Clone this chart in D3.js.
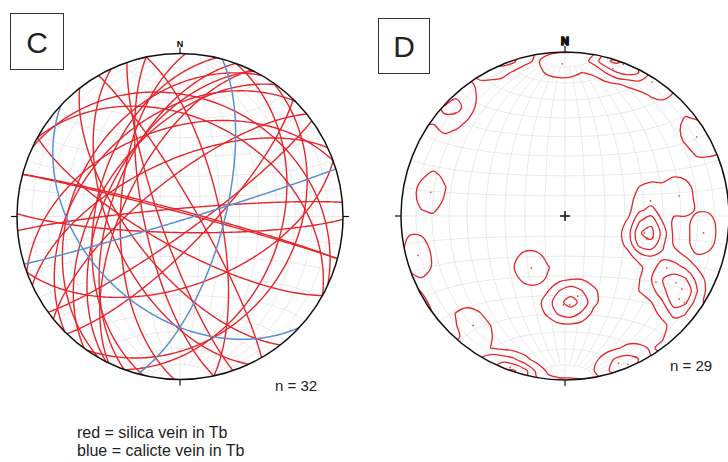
<!DOCTYPE html>
<html>
<head>
<meta charset="utf-8">
<script src="https://cdn.jsdelivr.net/npm/d3@7"></script>
<style>
  body { margin: 0; background: #fff; }
  text { font-family: "Liberation Sans", Arial, sans-serif; }
</style>
</head>
<body>
<svg id="chart" width="728" height="462"></svg>
<script>
// plot C: planes as [dip direction, dip]
const silicaPlanes = [
  [15, 88], [15, 87], [283, 47], [290, 55], [297, 52], [306, 50], [296, 62],
  [272, 60], [258, 72], [134, 76], [321, 72], [144, 82], [335, 62], [355, 86],
  [181, 82], [25, 28], [29, 40], [60, 82], [251, 80], [78, 70], [110, 38],
  [125, 30], [209, 75], [232, 65], [160, 55], [340, 45], [315, 40], [300, 35],
  [245, 55]
];
const calcitePlanes = [[105, 68], [223, 41], [163, 88]];

// plot D: poles to veins, trend / plunge
const poleTrend = [359, 15, 18, 21, 33, 313, 316, 59, 280, 255, 80, 80, 97, 102, 98,
  106, 104, 213, 171, 181, 177, 117, 126, 121, 122, 126, 126, 220, 200, 160, 157];
const polePlunge = [8, 0, 6, 1, 3, 9, 2, 7, 18, 8, 46, 30, 16, 49, 48,
  47, 44, 59, 49, 45, 45, 31, 32, 22, 17, 15, 11, 14, 2, 5, 2];

const nLabels = ["n = 32", "n = 29"];
const legendLines = ["red = silica vein in Tb", "blue = calicte vein in Tb"];

const red = "#e5262c", blue = "#5b8fd2";
const rad = Math.PI / 180;
const svg = d3.select("#chart");

// trend/plunge (lower hemisphere) -> lon/lat on a net centred at [0,0]
function toLonLat(trend, plunge) {
  const c = (90 - plunge) * rad, t = trend * rad;
  return [Math.atan2(Math.sin(t) * Math.sin(c), Math.cos(c)) / rad,
          Math.asin(Math.sin(c) * Math.cos(t)) / rad];
}

function greatCircle(dd, dip) {
  const ring = d3.geoCircle().center(toLonLat(dd + 180, 90 - dip)).radius(90).precision(1)();
  return {type: "LineString", coordinates: ring.coordinates[0]};
}

function makeNet(cx, cy, R) {
  const g = svg.append("g");
  const proj = d3.geoAzimuthalEqualArea()
    .scale(R / Math.SQRT2)
    .translate([cx, cy])
    .clipAngle(90)
    .precision(0.2);
  const path = d3.geoPath(proj);
  g.append("path")
    .datum(d3.geoGraticule10())
    .attr("d", path)
    .attr("fill", "none")
    .attr("stroke", "#dcdcdc")
    .attr("stroke-width", 0.6);
  return {g, proj, path, cx, cy, R};
}

function frame(net, blob) {
  const {g, cx, cy, R} = net;
  g.append("circle")
    .attr("cx", cx).attr("cy", cy).attr("r", R)
    .attr("fill", "none").attr("stroke", "#111").attr("stroke-width", 1.5);
  const t = 6;
  const ticks = [[cx, cy - R, cx, cy - R - t], [cx, cy + R, cx, cy + R + t],
                 [cx - R, cy, cx - R - t, cy], [cx + R, cy, cx + R + t, cy]];
  g.selectAll("line.tick").data(ticks).enter().append("line")
    .attr("x1", d => d[0]).attr("y1", d => d[1])
    .attr("x2", d => d[2]).attr("y2", d => d[3])
    .attr("stroke", "#111").attr("stroke-width", 1.2);
  g.append("text")
    .attr("x", cx).attr("y", cy - R - 7)
    .attr("text-anchor", "middle")
    .attr("font-size", blob ? 11 : 9)
    .attr("font-weight", "bold")
    .attr("stroke", blob ? "#111" : "none")
    .attr("stroke-width", blob ? 1.5 : 0)
    .text("N");
}

function panelLabel(x, y, w, h, label) {
  svg.append("rect")
    .attr("x", x).attr("y", y).attr("width", w).attr("height", h)
    .attr("fill", "#fff").attr("stroke", "#333").attr("stroke-width", 1);
  svg.append("text")
    .attr("x", x + w / 2).attr("y", y + h / 2 + 11)
    .attr("text-anchor", "middle")
    .attr("font-size", 30)
    .attr("fill", "#222")
    .text(label);
}

// ---- C: great circles
const netC = makeNet(180, 216.5, 163);
netC.g.selectAll("path.silica")
  .data(silicaPlanes)
  .enter().append("path")
  .attr("d", d => netC.path(greatCircle(d[0], d[1])))
  .attr("fill", "none").attr("stroke", red).attr("stroke-width", 1.4);
netC.g.selectAll("path.calcite")
  .data(calcitePlanes)
  .enter().append("path")
  .attr("d", d => netC.path(greatCircle(d[0], d[1])))
  .attr("fill", "none").attr("stroke", blue).attr("stroke-width", 1.5);
frame(netC, false);

// ---- D: pole density contours (axial cone counting on a coarse grid)
const netD = makeNet(565, 216, 164);
const poles = poleTrend.map((t, i) => toLonLat(t, polePlunge[i]));
const N = 30, cone = 8.5, soft = 1.7;
const x0 = netD.cx - netD.R * 1.05, y0 = netD.cy - netD.R * 1.05;
const step = netD.R * 2.1 / N;
const values = new Float64Array(N * N);
for (let j = 0; j < N; j++) {
  for (let i = 0; i < N; i++) {
    const ll = netD.proj.invert([x0 + (i + 0.5) * step, y0 + (j + 0.5) * step]);
    let s = 0;
    for (const p of poles) {
      let a = d3.geoDistance(ll, p) / rad;
      a = Math.min(a, 180 - a);
      s += 1 / (1 + Math.exp((a - cone) / soft));
    }
    values[j * N + i] = s;
  }
}
const levels = [0.5, 1.5, 2.5, 3.5, 4.5];
const contours = d3.contours().size([N, N]).thresholds(levels)(values);
const gx = d3.scaleLinear().domain([0, N]).range([x0, x0 + N * step]);
const gy = d3.scaleLinear().domain([0, N]).range([y0, y0 + N * step]);
const ringLine = d3.line().x(d => gx(d[0])).y(d => gy(d[1])).curve(d3.curveCatmullRomClosed.alpha(0.5));
const rings = contours.flatMap(c => c.coordinates.flatMap(poly => poly.map(r => r.slice(0, -1))));

svg.append("clipPath").attr("id", "clipD")
  .append("circle").attr("cx", netD.cx).attr("cy", netD.cy).attr("r", netD.R);
netD.g.append("g").attr("clip-path", "url(#clipD)")
  .selectAll("path").data(rings).enter().append("path")
  .attr("d", ringLine)
  .attr("fill", "none").attr("stroke", red).attr("stroke-width", 1.3);
netD.g.selectAll("circle.pole").data(poles).enter().append("circle")
  .attr("cx", d => netD.proj(d)[0]).attr("cy", d => netD.proj(d)[1])
  .attr("r", 0.9).attr("fill", red).attr("opacity", 0.8);
netD.g.append("path")
  .attr("d", `M${netD.cx - 5},${netD.cy}H${netD.cx + 5}M${netD.cx},${netD.cy - 5}V${netD.cy + 5}`)
  .attr("stroke", "#111").attr("stroke-width", 1.5);
frame(netD, true);

// ---- labels
panelLabel(10.5, 13.5, 53, 56, "C");
panelLabel(378.5, 18.5, 51, 55, "D");

svg.selectAll("text.n").data(nLabels).enter().append("text")
  .attr("x", (d, i) => i ? 670 : 275)
  .attr("y", (d, i) => i ? 371 : 391)
  .attr("font-size", 15).attr("fill", "#222")
  .text(d => d);

svg.selectAll("text.legend").data(legendLines).enter().append("text")
  .attr("x", 77)
  .attr("y", (d, i) => 438 + i * 18)
  .attr("font-size", 16).attr("fill", "#222")
  .text(d => d);
</script>
</body>
</html>
